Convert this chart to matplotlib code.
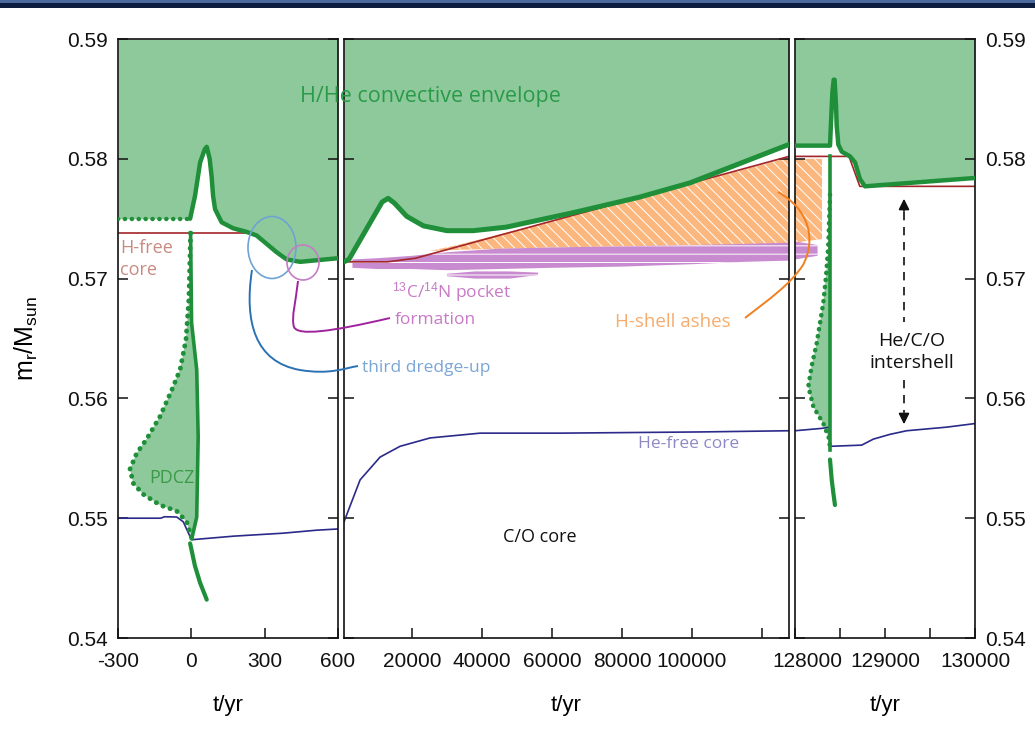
import numpy as np
import matplotlib
matplotlib.use("Agg")
import matplotlib.pyplot as plt
from matplotlib import font_manager as fm
from matplotlib.patches import Ellipse, Rectangle, PathPatch
from matplotlib.path import Path
from matplotlib.transforms import ScaledTranslation


def pick_font(families):
    for fam in families:
        try:
            fm.findfont(fam, fallback_to_default=False)
            return fam
        except Exception:
            pass
    return "DejaVu Sans"


AXIS_FONT = pick_font(["Liberation Sans Narrow", "Liberation Sans"])
NOTE_FONT = pick_font(["Open Sans", "Noto Sans"])
plt.rcParams["font.family"] = [AXIS_FONT, "DejaVu Sans"]
plt.rcParams["mathtext.fontset"] = "custom"
plt.rcParams["mathtext.rm"] = AXIS_FONT
plt.rcParams["mathtext.it"] = AXIS_FONT
plt.rcParams["hatch.linewidth"] = 0.7

# ---------------------------------------------------------------- data
# interpulse phase 1: thermal pulse (t in yr relative to pulse)
env_left_t = [-300, -5, 15, 36, 55, 63, 75, 83, 89, 97, 124, 171, 226, 267, 308, 349, 390, 445, 600]
env_left_m = [0.5750, 0.5750, 0.5769, 0.5797, 0.5808, 0.5810, 0.5800, 0.5785, 0.5769, 0.5758,
              0.5747, 0.5742, 0.5739, 0.5736, 0.5729, 0.5722, 0.5716, 0.5714, 0.5717]
hfree_left_t = [-300, 240]
hfree_left_m = [0.5738, 0.5738]
pdcz_left_outer_t = [-3, -10, -22, -46, -80, -128, -183, -224, -251, -237, -197, -128, -60, -19, 2]
pdcz_left_outer_m = [0.5738, 0.5683, 0.5649, 0.5624, 0.5607, 0.5585, 0.5566, 0.5554, 0.5541,
                     0.5529, 0.5520, 0.5511, 0.5506, 0.5497, 0.5483]
pdcz_left_inner_t = [-3, 1, 22, 28, 22, 2]
pdcz_left_inner_m = [0.5738, 0.5663, 0.5624, 0.5568, 0.5501, 0.5483]
tail_left_t = [-5, 15, 36, 63]
tail_left_m = [0.5479, 0.5460, 0.5446, 0.5432]
hefree_left_t = [-300, -125, -110, -60, -33, -6, 0, 172, 376, 513, 600]
hefree_left_m = [0.5500, 0.5500, 0.55012, 0.5501, 0.5497, 0.5485, 0.5482, 0.5485, 0.54875, 0.5490, 0.5491]

# interpulse phase 2: long interpulse period
env_mid_t = [600, 2000, 11500, 13200, 15000, 18500, 23300, 30000, 37500, 47000, 66000, 85000, 99500, 127700]
env_mid_m = [0.5714, 0.5716, 0.5764, 0.5767, 0.5763, 0.5752, 0.5744, 0.5740, 0.5740, 0.5743,
             0.5755, 0.5768, 0.5780, 0.5812]
hfree_mid_t = [600, 13000, 21000, 127700]
hfree_mid_m = [0.5714, 0.5714, 0.5717, 0.5802]
hefree_mid_t = [600, 5200, 10900, 16600, 25200, 39500, 62300, 102300, 127700]
hefree_mid_m = [0.5497, 0.5532, 0.5551, 0.5560, 0.5567, 0.5571, 0.5571, 0.5572, 0.5573]
ashes_mid_t = [25000, 33000, 60000, 90000, 127700]
ashes_mid_lo = [0.5723, 0.5724, 0.5726, 0.5727, 0.5729]
ashes_mid_hi = [0.5723, 0.5728, 0.5748, 0.5772, 0.5801]
pocket_mid_t = [3000, 10000, 20000, 30000, 45000, 60000, 80000, 100000, 115000, 127700]
pocket_mid_lo = [0.5709, 0.5708, 0.5708, 0.5707, 0.5708, 0.5709, 0.5710, 0.5712, 0.5714, 0.5715]
pocket_mid_hi = [0.5716, 0.5717, 0.5719, 0.5722, 0.5725, 0.5726, 0.5727, 0.5728, 0.5729, 0.5730]
pocket_spot_t = [30000, 38000, 48000, 56000]
pocket_spot_lo = [0.5702, 0.5700, 0.5700, 0.5703]
pocket_spot_hi = [0.5704, 0.5706, 0.5706, 0.5705]

# interpulse phase 3: next thermal pulse
env_right_t = [128000, 128389, 128400, 128415, 128430, 128440, 128456, 128463, 128481, 128519,
               128611, 128667, 128722, 128778, 128944, 130000]
env_right_m = [0.5811, 0.5811, 0.5830, 0.5855, 0.5866, 0.5866, 0.5844, 0.5828, 0.5812, 0.5806,
               0.5802, 0.5797, 0.5783, 0.5777, 0.5778, 0.5784]
hfree_right_t = [128000, 128600, 128720, 130000]
hfree_right_m = [0.5802, 0.5802, 0.5777, 0.5777]
pdcz_right_inner_t = [128389, 128389]
pdcz_right_inner_m = [0.5802, 0.5557]
pdcz_right_outer_t = [128389, 128370, 128345, 128315, 128241, 128185, 128148, 128204, 128315, 128381, 128389]
pdcz_right_outer_m = [0.5770, 0.5727, 0.5702, 0.5680, 0.5646, 0.5627, 0.5610, 0.5593, 0.5579, 0.5566, 0.5557]
tail_right_t = [128389, 128408, 128426, 128444]
tail_right_m = [0.5549, 0.5532, 0.5521, 0.5511]
hefree_right_t = [128000, 128300, 128380, 128389, 128741, 128870, 129056, 129241, 129685, 130000]
hefree_right_m = [0.5573, 0.5575, 0.5576, 0.5560, 0.5561, 0.5566, 0.5570, 0.5573, 0.5576, 0.5579]
ashes_right_t = [128000, 128300]
ashes_right_lo = [0.5730, 0.5733]
ashes_right_hi = [0.5800, 0.5800]
pocket_right_t = [128000, 128250]
pocket_right_lo = [0.5716, 0.5719]
pocket_right_hi = [0.5731, 0.5728]

y_ticks = [0.54, 0.55, 0.56, 0.57, 0.58, 0.59]
y_labels = ["0.54", "0.55", "0.56", "0.57", "0.58", "0.59"]
left_xticks = [-300, 0, 300, 600]
left_xlabels = ["-300", "0", "300", "600"]
mid_xticks = [20000, 40000, 60000, 80000, 100000, 120000]
mid_xlabels = ["20000", "40000", "60000", "80000", "100000", ""]
right_xticks = [128000, 128500, 129000, 129500, 130000]
right_xlabels = ["128000", "", "129000", "", "130000"]

# ---------------------------------------------------------------- style
C_FILL = "#8ec99c"
C_GREEN = "#1f8f3a"
C_RED = "#a3262a"
C_NAVY = "#2a2a8a"
C_ASH = "#fbb77d"
C_POCKET = "#c98bd0"

W, H = 1035, 729
fig = plt.figure(figsize=(W / 100, H / 100), dpi=100)


def rect(x0, x1, y0=39, y1=638):
    return [x0 / W, 1 - y1 / H, (x1 - x0) / W, (y1 - y0) / H]


axL = fig.add_axes(rect(118, 338))
axM = fig.add_axes(rect(344, 789))
axR = fig.add_axes(rect(795, 975))

for ax in (axL, axM, axR):
    ax.set_ylim(0.54, 0.59)
    ax.set_yticks(y_ticks)
    ax.tick_params(direction="in", length=7, width=1.1, left=True, right=True,
                   top=False, bottom=True, labelsize=15, colors="#111111")
    ax.tick_params(axis="x", pad=10)
    ax.tick_params(axis="y", pad=7)
    for sp in ax.spines.values():
        sp.set_linewidth(1.2)
        sp.set_color("#111111")
    ax.set_xlabel("t/yr", fontsize=16, labelpad=17)

axL.set_xlim(-300, 600)
axL.set_xticks(left_xticks)
axL.set_xticklabels(left_xlabels)
axL.set_yticklabels(y_labels)
axL.set_ylabel(r"m$_\mathrm{r}$/M$_\mathrm{sun}$", fontsize=18, labelpad=20)

axM.set_xlim(600, 127700)
axM.set_xticks(mid_xticks)
axM.set_xticklabels(mid_xlabels)
axM.tick_params(labelleft=False)

axR.set_xlim(128000, 130000)
axR.set_xticks(right_xticks)
axR.set_xticklabels(right_xlabels)
axR.tick_params(labelleft=False, labelright=True)
axR.set_yticklabels(y_labels)
first = axR.get_xticklabels()[0]
first.set_transform(first.get_transform() + ScaledTranslation(0.12, 0, fig.dpi_scale_trans))

dot = dict(ls=(0, (0.05, 1.5)), dash_capstyle="round")

# --- left panel
axL.fill_between(env_left_t, env_left_m, 0.59, color=C_FILL, lw=0, zorder=1)
axL.fill(np.r_[pdcz_left_outer_t, pdcz_left_inner_t[::-1]],
         np.r_[pdcz_left_outer_m, pdcz_left_inner_m[::-1]], color=C_FILL, lw=0, zorder=1)
axL.plot(hfree_left_t, hfree_left_m, color=C_RED, lw=1.2, zorder=2)
axL.plot(hefree_left_t, hefree_left_m, color=C_NAVY, lw=1.2, zorder=2)
axL.plot(env_left_t[:2], env_left_m[:2], color=C_GREEN, lw=3.2, **dot, zorder=3)
axL.plot(env_left_t[1:], env_left_m[1:], color=C_GREEN, lw=3.2, zorder=3,
         solid_capstyle="round")
axL.plot(pdcz_left_outer_t, pdcz_left_outer_m, color=C_GREEN, lw=3.5, **dot, zorder=3)
axL.plot(pdcz_left_inner_t, pdcz_left_inner_m, color=C_GREEN, lw=2.6, zorder=3)
axL.plot(tail_left_t, tail_left_m, color=C_GREEN, lw=3.0, zorder=3, solid_capstyle="round")

# --- middle panel
axM.fill_between(env_mid_t, env_mid_m, 0.59, color=C_FILL, lw=0, zorder=1)
axM.fill_between(ashes_mid_t, ashes_mid_lo, ashes_mid_hi, facecolor=C_ASH,
                 edgecolor="white", hatch="\\\\\\", lw=0, zorder=1.5)
axM.fill_between(pocket_mid_t, pocket_mid_lo, pocket_mid_hi, facecolor=C_POCKET,
                 edgecolor="white", hatch="--", lw=0, zorder=1.6)
axM.fill_between(pocket_spot_t, pocket_spot_lo, pocket_spot_hi, facecolor=C_POCKET,
                 edgecolor="white", hatch="-", lw=0, zorder=1.6)
axM.plot(hfree_mid_t, hfree_mid_m, color=C_RED, lw=1.2, zorder=2)
axM.plot(hefree_mid_t, hefree_mid_m, color=C_NAVY, lw=1.2, zorder=2)
axM.plot(env_mid_t, env_mid_m, color=C_GREEN, lw=3.6, zorder=3, solid_capstyle="round")

# --- right panel
axR.fill_between(env_right_t, env_right_m, 0.59, color=C_FILL, lw=0, zorder=1)
axR.fill_between(ashes_right_t, ashes_right_lo, ashes_right_hi, facecolor=C_ASH,
                 edgecolor="white", hatch="\\\\\\", lw=0, zorder=1.5)
axR.fill_between(pocket_right_t, pocket_right_lo, pocket_right_hi, facecolor=C_POCKET,
                 edgecolor="white", hatch="--", lw=0, zorder=1.6)
axR.fill(np.r_[pdcz_right_outer_t, pdcz_right_inner_t[::-1]],
         np.r_[pdcz_right_outer_m, pdcz_right_inner_m[::-1]], color=C_FILL, lw=0, zorder=1)
axR.plot(hfree_right_t, hfree_right_m, color=C_RED, lw=1.2, zorder=2)
axR.plot(hefree_right_t, hefree_right_m, color=C_NAVY, lw=1.2, zorder=2)
axR.plot(env_right_t, env_right_m, color=C_GREEN, lw=3.2, zorder=3, solid_capstyle="round")
axR.plot(pdcz_right_outer_t, pdcz_right_outer_m, color=C_GREEN, lw=3.3, **dot, zorder=3)
axR.plot(pdcz_right_inner_t, pdcz_right_inner_m, color=C_GREEN, lw=2.6, zorder=3)
axR.plot(tail_right_t, tail_right_m, color=C_GREEN, lw=3.0, zorder=3, solid_capstyle="round")

# ---------------------------------------------------------------- annotations (pixel frame)
ann = fig.add_axes([0, 0, 1, 1])
ann.set_xlim(0, W)
ann.set_ylim(H, 0)
ann.set_axis_off()
ann.set_zorder(10)

# header bar
ann.add_patch(Rectangle((0, 0), W, 3, color="#4d6a9c", lw=0))
ann.add_patch(Rectangle((0, 3), W, 4.5, color="#0c1d3f", lw=0))

note = dict(family=[NOTE_FONT, "DejaVu Sans"])
ann.text(430, 96, "H/He convective envelope", color="#2a9a48", fontsize=15.5,
         ha="center", va="center", **note)
ann.text(120, 259, "H-free\ncore", color="#c98a80", fontsize=13, ha="left",
         va="center", linespacing=1.25, **note)
ann.text(172, 478, "PDCZ", color="#3a9a48", fontsize=13, ha="center", va="center", **note)
ann.text(392, 292, r"$^{13}$C/$^{14}$N pocket", color="#c77ac6", fontsize=12.5,
         ha="left", va="center", **note)
ann.text(395, 320, "formation", color="#c77ac6", fontsize=12.5, ha="left", va="center", **note)
ann.text(362, 368, "third dredge-up", color="#7aa6d6", fontsize=12.5, ha="left",
         va="center", **note)
ann.text(615, 322, "H-shell ashes", color="#f7ac6e", fontsize=13.5, ha="left",
         va="center", **note)
ann.text(638, 444, "He-free core", color="#8c89c6", fontsize=12.5, ha="left",
         va="center", **note)
ann.text(540, 537, "C/O core", color="#111111", fontsize=13, ha="center",
         va="center", **note)
ann.text(912, 352, "He/C/O\nintershell", color="#111111", fontsize=14, ha="center",
         va="center", linespacing=1.3, zorder=5,
         bbox=dict(facecolor="white", edgecolor="none", pad=3), **note)

# dredge-up and pocket markers
ann.add_patch(Ellipse((272, 247.5), 48, 62, fill=False, edgecolor="#6ea3d3", lw=1.2))
ann.add_patch(Ellipse((303, 262.5), 32, 35, fill=False, edgecolor="#c47cc4", lw=1.2))

C4, M0 = Path.CURVE4, Path.MOVETO
blue_path = Path([(252, 270), (244, 322), (255, 362), (300, 370),
                  (330, 375), (345, 368), (358, 366)],
                 [M0, C4, C4, C4, C4, C4, C4])
ann.add_patch(PathPatch(blue_path, fill=False, edgecolor="#2b72b5", lw=1.4))
mag_path = Path([(298, 281), (296, 300), (291, 318), (294, 327),
                 (298, 336), (330, 332), (390, 318)],
                [M0, C4, C4, C4, C4, C4, C4])
ann.add_patch(PathPatch(mag_path, fill=False, edgecolor="#a0229e", lw=1.4))
orange_path = Path([(745, 318), (768, 300), (790, 285), (803, 265),
                    (816, 240), (810, 210), (778, 192)],
                   [M0, C4, C4, C4, C4, C4, C4])
ann.add_patch(PathPatch(orange_path, fill=False, edgecolor="#f07f20", lw=1.4))

# intershell double arrow
ann.plot([904, 904], [212, 322], color="#111111", lw=1.2, ls=(0, (5, 4)))
ann.plot([904, 904], [380, 412], color="#111111", lw=1.2, ls=(0, (5, 4)))
ann.annotate("", xy=(904, 196), xytext=(904, 214),
             arrowprops=dict(arrowstyle="-|>", color="#111111", lw=1.2, mutation_scale=16))
ann.annotate("", xy=(904, 427), xytext=(904, 410),
             arrowprops=dict(arrowstyle="-|>", color="#111111", lw=1.2, mutation_scale=16))

fig.savefig("out.png", dpi=100)
